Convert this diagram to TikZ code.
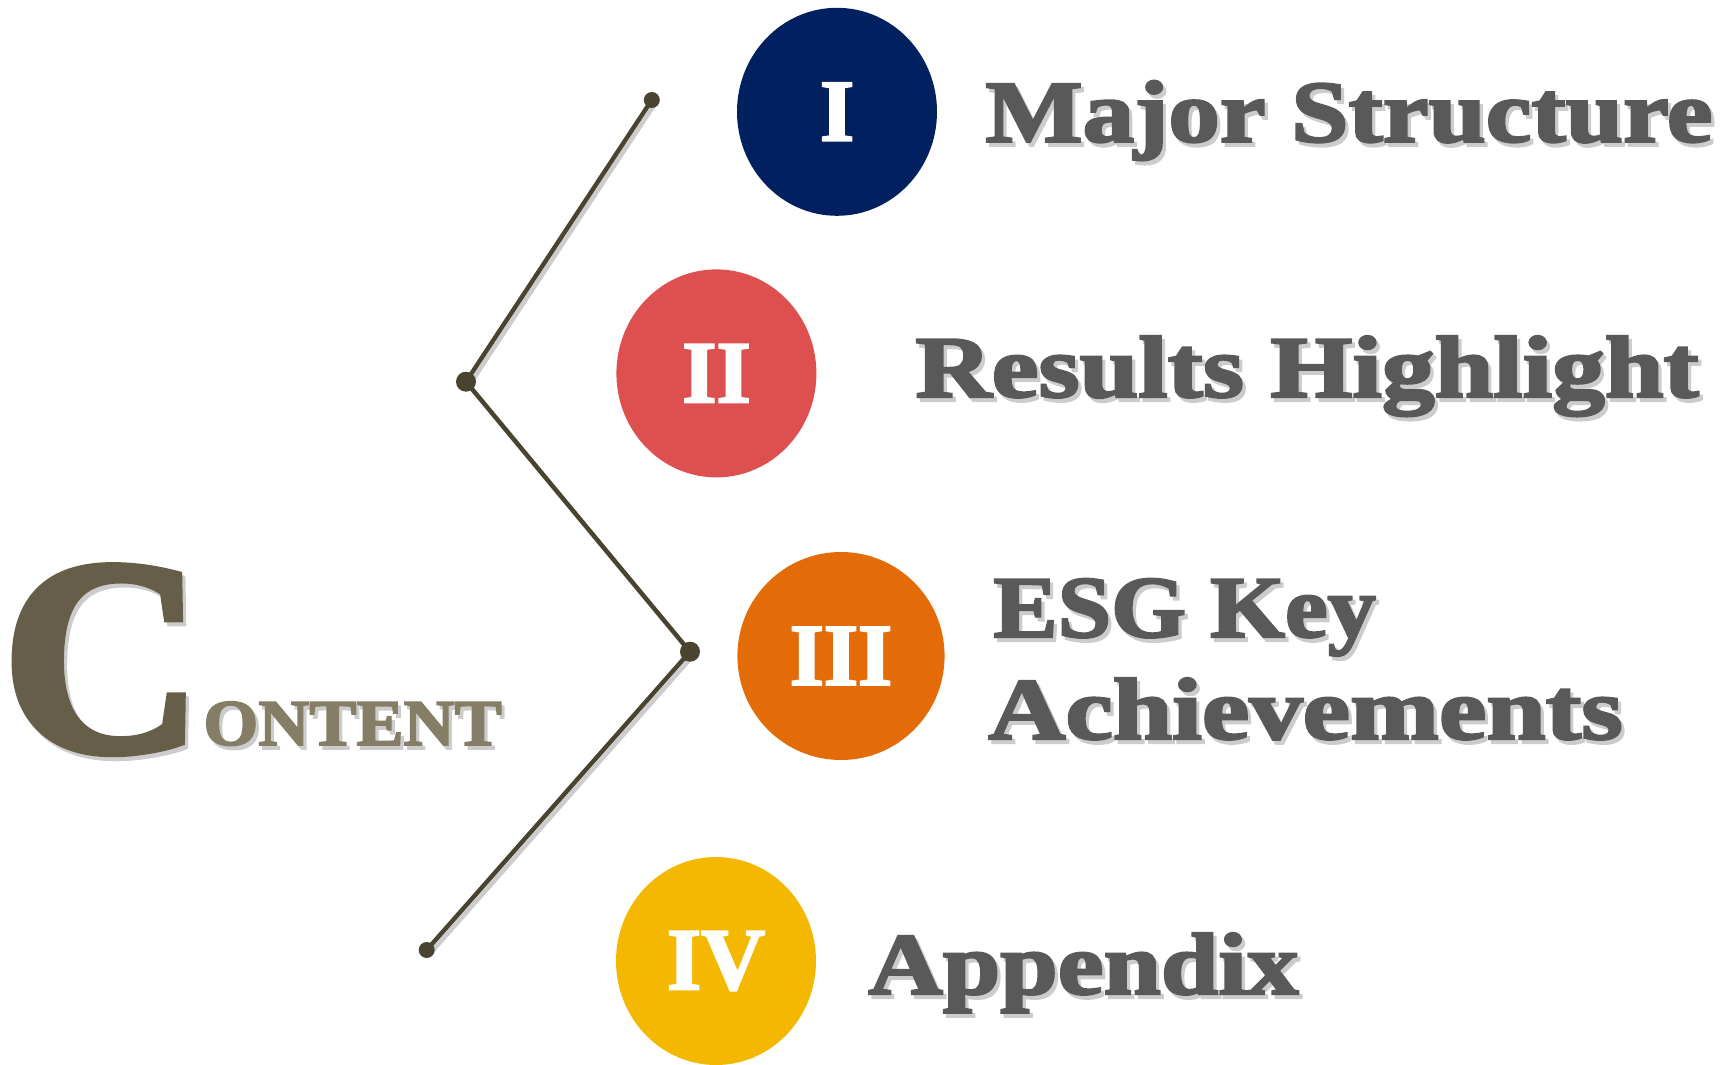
\documentclass[tikz,border=0pt]{standalone}
\usepackage{fontspec}
\setmainfont{Liberation Serif}
\newfontfamily\headfont{Liberation Serif Bold}[FakeBold=2.5]
\usetikzlibrary{shapes.geometric}

\definecolor{navy}{HTML}{002060}
\definecolor{coral}{HTML}{DE5050}
\definecolor{tangerine}{HTML}{E36C09}
\definecolor{gold}{HTML}{F5B800}
\definecolor{linkcol}{HTML}{48442F}
\definecolor{cdark}{HTML}{665E49}
\definecolor{clight}{HTML}{857D66}
\definecolor{headgray}{HTML}{595959}
\definecolor{shade}{HTML}{CCCCCC}

% text with a soft drop shadow, stretched sideways by #1
\newcommand{\shadowed}[2]{\rlap{\raisebox{-2pt}[0pt][0pt]{\hspace{1.6pt}\color{shade}\scalebox{#1}[1]{#2}}}\scalebox{#1}[1]{#2}}

\tikzset{
    badge/.style={ellipse, minimum width=100pt, minimum height=104pt, inner sep=0pt,
        text=white, font=\headfont\fontsize{44}{44}\selectfont},
    heading/.style={anchor=base west, inner sep=0pt, text=headgray,
        font=\headfont\fontsize{44}{50}\selectfont},
    link/.style={draw=linkcol, line width=2.2pt, line cap=round, line join=round},
    linkshadow/.style={draw=shade, line width=2.2pt, line cap=round, line join=round}
}

\begin{document}
\begin{tikzpicture}[x=0.5pt, y=-0.5pt]
    \useasboundingbox (0,0) rectangle (1735,1065);

    % title
    \node[anchor=base west, inner sep=0pt, text=cdark, font=\headfont\fontsize{140}{140}\selectfont] (bigc) at (1,751) {\shadowed{1}{C}};
    \node[anchor=base west, inner sep=0pt, text=clight, font=\headfont\fontsize{32.7}{34}\selectfont] (rest) at (203,745) {\shadowed{1.08}{ONTENT}};

    % connector
    \coordinate (p1) at (651.8,100);
    \coordinate (p2) at (466,381.7);
    \coordinate (p3) at (690,651.7);
    \coordinate (p4) at (426.7,950);
    \draw[linkshadow] ([shift={(3,4)}]p1) -- ([shift={(3,4)}]p2) -- ([shift={(3,4)}]p3) -- ([shift={(3,4)}]p4);
    \draw[link] (p1) -- (p2) -- (p3) -- (p4);
    \fill[linkcol] (p1) circle (4pt) (p4) circle (4pt);
    \fill[linkcol] (p2) circle (5pt) (p3) circle (5pt);

    % badges
    \node[badge, fill=navy] (one) at (837,111.8) {I};
    \node[badge, fill=coral] (two) at (716.4,373.4) {II};
    \node[badge, fill=tangerine, minimum width=103.6pt] (three) at (841,656) {III};
    \node[badge, fill=gold] (four) at (716,961) {IV};

    % headings
    \node[heading] (h1) at (985,141.7) {\shadowed{1.17}{Major Structure}};
    \node[heading] (h2) at (915,397) {\shadowed{1.2}{Results Highlight}};
    \node[heading] (h3) at (993,637) {\shadowed{1.094}{ESG Key}};
    \node[heading] (h4) at (988,739) {\shadowed{1.213}{Achievements}};
    \node[heading] (h5) at (868,994) {\shadowed{1.173}{Appendix}};
\end{tikzpicture}
\end{document}
